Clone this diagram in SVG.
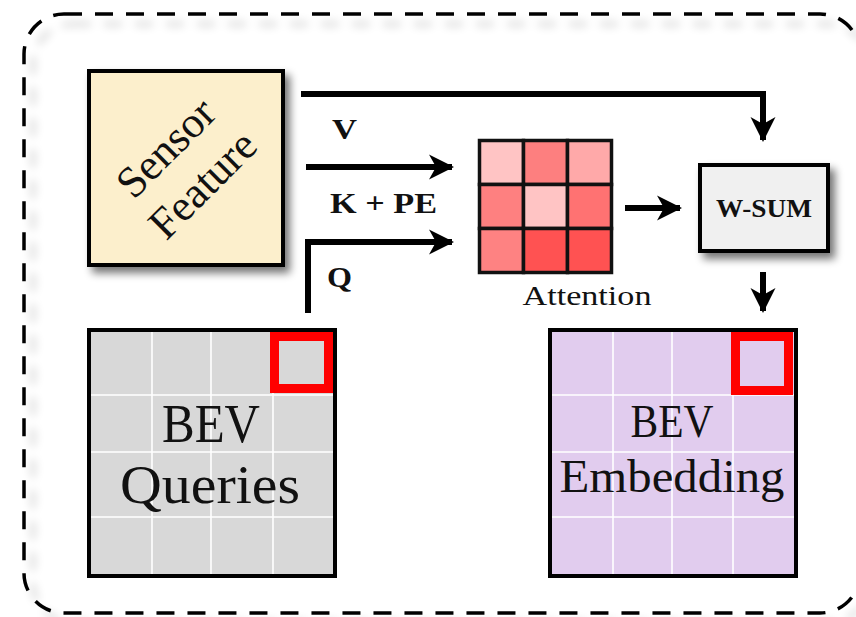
<svg xmlns="http://www.w3.org/2000/svg" width="856" height="617" viewBox="0 0 856 617">
  <defs>
    <filter id="softShadow" x="-20%" y="-20%" width="150%" height="150%">
      <feGaussianBlur in="SourceAlpha" stdDeviation="4"/>
      <feOffset dx="5" dy="6" result="b"/>
      <feComponentTransfer><feFuncA type="linear" slope="0.55"/></feComponentTransfer>
      <feMerge><feMergeNode/><feMergeNode in="SourceGraphic"/></feMerge>
    </filter>
    <filter id="frameShadow" x="-5%" y="-5%" width="110%" height="110%">
      <feGaussianBlur in="SourceAlpha" stdDeviation="5"/>
      <feOffset dx="9" dy="10" result="b"/>
      <feComponentTransfer><feFuncA type="linear" slope="0.22"/></feComponentTransfer>
      <feMerge><feMergeNode/><feMergeNode in="SourceGraphic"/></feMerge>
    </filter>
    <marker id="arrow" markerUnits="userSpaceOnUse" markerWidth="30" markerHeight="30" refX="0" refY="0" viewBox="-26 -15 30 30" orient="auto">
      <path d="M2,0 L-23,-12.5 L-16,0 L-23,12.5 Z" fill="#000"/>
    </marker>
  </defs>
  <style>
    .frame { fill: none; stroke: #000; stroke-width: 3.5; stroke-dasharray: 18 13; }
    .box { stroke: #000; stroke-width: 4; }
    .grid { stroke: #fff; stroke-width: 1.6; }
    .sel { fill: none; stroke: #ff0000; stroke-width: 9; }
    .conn { fill: none; stroke: #000; stroke-width: 6; }
    .serif { font-family: "Liberation Serif", "DejaVu Serif", serif; fill: #111; }
    .lbl { font-family: "Liberation Serif", serif; font-weight: bold; font-size: 29px; fill: #111; }
    .cell { stroke: #111; stroke-width: 3.5; }
  </style>

  <!-- outer dashed frame -->
  <rect class="frame" x="24" y="14" width="836" height="599" rx="40" ry="40" filter="url(#frameShadow)"/>

  <!-- connectors -->
  <g id="connectors">
    <path class="conn" d="M301,94 H763 V140" marker-end="url(#arrow)"/>
    <path class="conn" d="M306,167 H452" marker-end="url(#arrow)"/>
    <path class="conn" d="M308,313 V242 H452" marker-end="url(#arrow)"/>
    <path class="conn" d="M625,208 H680" marker-end="url(#arrow)"/>
    <path class="conn" d="M763,272 V311" marker-end="url(#arrow)"/>
    <text class="lbl" x="332" y="139" textLength="25" lengthAdjust="spacingAndGlyphs">V</text>
    <text class="lbl" x="330" y="213" textLength="107" lengthAdjust="spacingAndGlyphs">K + PE</text>
    <text class="lbl" x="327" y="287" textLength="25" lengthAdjust="spacingAndGlyphs">Q</text>
  </g>

  <!-- sensor feature -->
  <g id="sensor-feature">
    <rect class="box" x="89" y="71" width="194" height="194" fill="#fcefcc" filter="url(#softShadow)"/>
    <g transform="translate(186,168) rotate(-45)">
      <text class="serif" x="0" y="-14" font-size="44" text-anchor="middle">Sensor</text>
      <text class="serif" x="0" y="38" font-size="44" text-anchor="middle">Feature</text>
    </g>
  </g>

  <!-- attention matrix -->
  <g id="attention">
    <rect class="cell" x="479.5" y="140.5" width="44" height="44" fill="#ffc4c4"/>
    <rect class="cell" x="523.5" y="140.5" width="44" height="44" fill="#fd7f7f"/>
    <rect class="cell" x="567.5" y="140.5" width="44" height="44" fill="#ffa9a9"/>
    <rect class="cell" x="479.5" y="184.5" width="44" height="44" fill="#fe8080"/>
    <rect class="cell" x="523.5" y="184.5" width="44" height="44" fill="#ffc4c4"/>
    <rect class="cell" x="567.5" y="184.5" width="44" height="44" fill="#ff7272"/>
    <rect class="cell" x="479.5" y="228.5" width="44" height="44" fill="#fe8282"/>
    <rect class="cell" x="523.5" y="228.5" width="44" height="44" fill="#ff5252"/>
    <rect class="cell" x="567.5" y="228.5" width="44" height="44" fill="#ff5252"/>
    <text class="serif" x="587" y="305" font-size="27" text-anchor="middle" textLength="129" lengthAdjust="spacingAndGlyphs">Attention</text>
  </g>

  <!-- weighted sum -->
  <g id="w-sum">
    <rect class="box" x="700" y="165" width="128" height="86" fill="#f0f0f0" filter="url(#softShadow)"/>
    <text x="764" y="217" font-family="Liberation Serif, serif" font-weight="bold" font-size="25" fill="#111" text-anchor="middle" textLength="96" lengthAdjust="spacingAndGlyphs">W-SUM</text>
  </g>

  <!-- BEV queries grid -->
  <g id="bev-queries">
    <rect x="89" y="330" width="246" height="246" fill="#d8d8d8"/>
    <path class="grid" d="M152,330 V576 M211,330 V576 M273,330 V576 M89,395 H335 M89,452 H335 M89,517 H335"/>
    <rect x="89" y="330" width="246" height="246" fill="none" stroke="#000" stroke-width="4"/>
    <rect class="sel" x="274.5" y="336.5" width="54" height="52"/>
    <text class="serif" x="211" y="442" font-size="54" text-anchor="middle" textLength="98" lengthAdjust="spacingAndGlyphs">BEV</text>
    <text class="serif" x="210" y="503" font-size="54" text-anchor="middle" textLength="180" lengthAdjust="spacingAndGlyphs">Queries</text>
  </g>

  <!-- BEV embedding grid -->
  <g id="bev-embedding">
    <rect x="550" y="330" width="246" height="246" fill="#e1ccee"/>
    <path class="grid" d="M613,330 V576 M672,330 V576 M733,330 V576 M550,395 H796 M550,452 H796 M550,517 H796"/>
    <rect x="550" y="330" width="246" height="246" fill="none" stroke="#000" stroke-width="4"/>
    <rect class="sel" x="735.5" y="336.5" width="53" height="54"/>
    <text class="serif" x="672" y="437" font-size="46" text-anchor="middle" textLength="83" lengthAdjust="spacingAndGlyphs">BEV</text>
    <text class="serif" x="672" y="492" font-size="46" text-anchor="middle" textLength="225" lengthAdjust="spacingAndGlyphs">Embedding</text>
  </g>
</svg>
